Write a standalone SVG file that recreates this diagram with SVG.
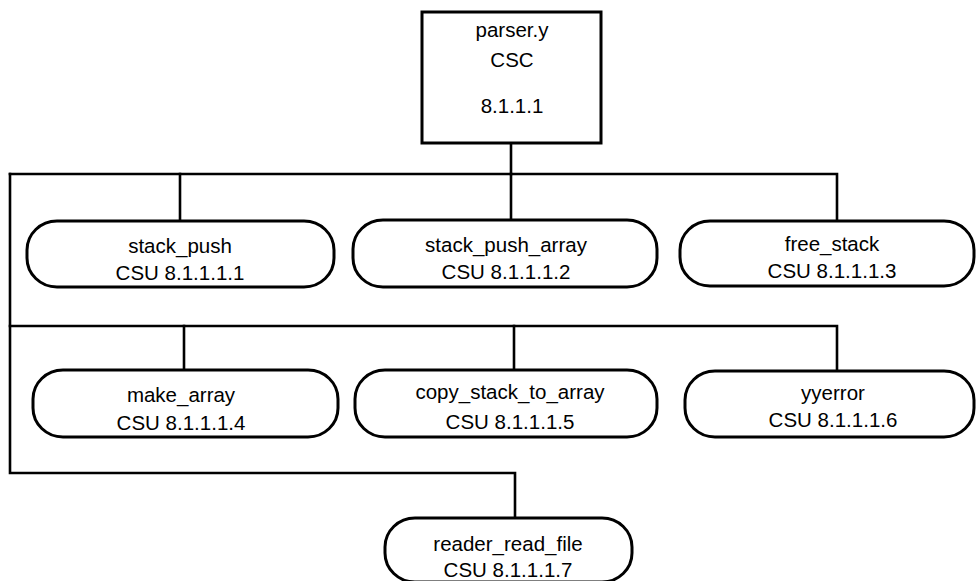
<svg xmlns="http://www.w3.org/2000/svg" width="976" height="581" viewBox="0 0 976 581">
<style>
.bg{fill:#ffffff}
.box{fill:#ffffff;stroke:#000;stroke-width:3}
.csu{fill:#ffffff;stroke:#000;stroke-width:3}
.conn{fill:none;stroke:#000;stroke-width:2.6;stroke-linecap:square}
text{font-family:"Liberation Sans",Arial,Helvetica,sans-serif;font-size:20.5px;fill:#000;text-anchor:middle}
</style>
<rect class="bg" x="0" y="0" width="976" height="581"/>
<g id="connectors">
<path class="conn" d="M511,143 V174"/>
<path class="conn" d="M10,174 H837 V221"/>
<path class="conn" d="M180,174 V221"/>
<path class="conn" d="M511,174 V220"/>
<path class="conn" d="M10,174 V473 H515 V518"/>
<path class="conn" d="M10,326 H837 V371"/>
<path class="conn" d="M184,326 V370"/>
<path class="conn" d="M514,326 V370"/>
</g>
<g id="parser_y">
<rect class="box" x="422" y="12" width="179" height="131"/>
<text x="512" y="37">parser.y</text>
<text x="512" y="67">CSC</text>
<text x="512" y="113">8.1.1.1</text>
</g>
<g id="stack_push">
<rect class="csu" x="27" y="221" width="307" height="66" rx="30" ry="29"/>
<text x="180" y="253">stack_push</text>
<text x="180" y="280">CSU 8.1.1.1.1</text>
</g>
<g id="stack_push_array">
<rect class="csu" x="353" y="220" width="304" height="67" rx="30" ry="29"/>
<text x="506" y="252">stack_push_array</text>
<text x="506" y="279">CSU 8.1.1.1.2</text>
</g>
<g id="free_stack">
<rect class="csu" x="680" y="221" width="294" height="65" rx="30" ry="29"/>
<text x="832" y="251">free_stack</text>
<text x="832" y="278">CSU 8.1.1.1.3</text>
</g>
<g id="make_array">
<rect class="csu" x="33" y="370" width="305" height="67" rx="30" ry="29"/>
<text x="181" y="402">make_array</text>
<text x="181" y="430">CSU 8.1.1.1.4</text>
</g>
<g id="copy_stack_to_array">
<rect class="csu" x="355" y="370" width="302" height="67" rx="30" ry="29"/>
<text x="510" y="399">copy_stack_to_array</text>
<text x="510" y="429">CSU 8.1.1.1.5</text>
</g>
<g id="yyerror">
<rect class="csu" x="685" y="371" width="289" height="66" rx="30" ry="29"/>
<text x="833" y="400">yyerror</text>
<text x="833" y="427">CSU 8.1.1.1.6</text>
</g>
<g id="reader_read_file">
<rect class="csu" x="385" y="518" width="247" height="64" rx="30" ry="29"/>
<text x="508" y="551">reader_read_file</text>
<text x="508" y="577">CSU 8.1.1.1.7</text>
</g>
</svg>
